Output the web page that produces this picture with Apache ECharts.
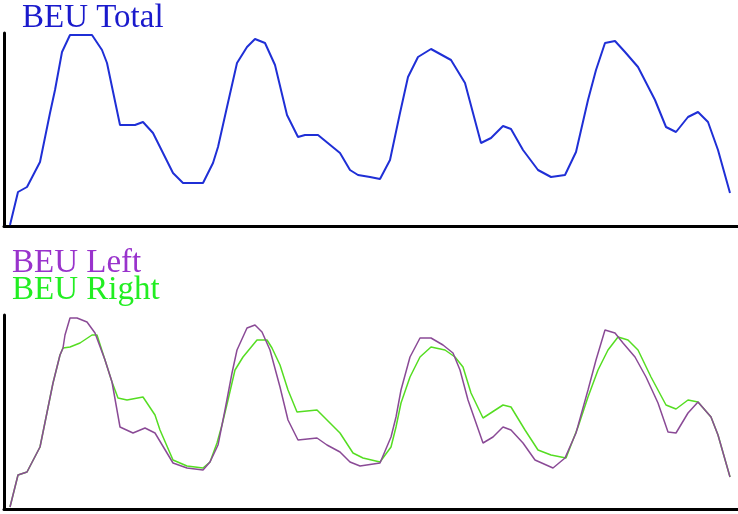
<!DOCTYPE html>
<html>
<head>
<meta charset="utf-8">
<script src="https://cdn.jsdelivr.net/npm/echarts@6/dist/echarts.min.js"></script>
<style>
html,body{margin:0;padding:0;background:#fff;}
#chart{width:738px;height:514px;}
</style>
</head>
<body>
<div id="chart"></div>
<script>
// Top panel: BEU Total (frame, value)
var totalFrame = [6,14,23,36,46,51,58,66,88,98,103,116,131,139,149,169,179,199,209,214,223,233,243,251,261,271,283,294,301,314,336,346,354,366,376,386,396,404,414,427,447,461,477,487,499,507,519,534,547,561,572,584,592,601,611,621,634,651,662,672,684,694,704,714,726];
var totalValue = [1,34,39,64,113,136,174,191,191,176,163,101,101,104,93,53,43,43,63,79,119,163,179,187,183,161,111,89,91,91,73,56,51,49,47,66,113,149,169,177,166,143,83,88,100,97,76,56,49,51,74,126,156,183,185,174,159,126,99,94,109,114,104,76,33];

// Bottom panel: BEU Left
var leftFrame = [6,14,23,36,49,56,59,61,66,73,83,91,101,108,116,129,141,151,169,183,199,206,214,221,228,233,243,251,258,266,276,284,294,313,323,336,346,356,376,387,392,397,406,416,427,439,449,456,464,479,489,499,507,519,531,549,561,572,584,592,601,611,619,631,642,654,664,672,684,694,707,714,726];
var leftValue = [2,34,37,62,126,154,161,174,191,191,187,176,149,127,82,76,81,76,46,41,39,47,64,99,136,159,181,184,177,159,122,89,69,71,64,57,47,43,46,72,92,119,152,171,171,164,156,139,109,66,72,82,79,66,49,41,51,76,119,149,179,176,166,152,132,106,77,76,96,107,92,74,32];

// Bottom panel: BEU Right
var rightFrame = [6,14,23,36,49,56,59,66,76,88,93,101,108,114,123,139,151,156,169,183,199,206,213,218,224,231,239,253,263,268,276,284,293,313,323,336,349,359,376,387,392,397,406,416,427,441,451,459,467,479,499,507,521,534,547,562,574,584,594,604,614,624,634,647,662,672,684,694,707,714,726];
var rightValue = [2,34,37,62,126,154,161,162,166,174,174,149,127,111,109,112,94,79,49,43,41,47,66,84,109,139,152,169,169,161,144,119,97,99,89,76,56,51,47,62,82,106,132,152,162,159,152,142,116,91,104,102,79,59,54,51,82,112,139,159,172,169,159,132,104,100,109,107,92,74,32];

function zip(a, b) { return a.map(function (v, i) { return [v, b[i]]; }); }

var chart = echarts.init(document.getElementById('chart'), null, {renderer: 'canvas'});

function xAxis(idx) {
  return {
    type: 'value', gridIndex: idx, min: 0, max: 734,
    axisLine: {show: true, onZero: false, lineStyle: {color: '#000', width: 3}},
    axisTick: {show: false}, axisLabel: {show: false}, splitLine: {show: false}
  };
}
function yAxis(idx, max) {
  return {
    type: 'value', gridIndex: idx, min: 0, max: max,
    axisLine: {show: true, onZero: false, lineStyle: {color: '#000', width: 3}},
    axisTick: {show: false}, axisLabel: {show: false}, splitLine: {show: false}
  };
}

chart.setOption({
  animation: false,
  backgroundColor: '#fff',
  grid: [
    {left: 4, right: 0, top: 33, height: 193, containLabel: false},
    {left: 4, right: 0, top: 315, height: 194, containLabel: false}
  ],
  xAxis: [xAxis(0), xAxis(1)],
  yAxis: [yAxis(0, 193), yAxis(1, 194)],
  graphic: [
    {type: 'text', left: 22, top: 2, style: {text: 'BEU Total', font: '33px "Liberation Serif"', fill: '#1a1acc'}},
    {type: 'text', left: 12, top: 247, style: {text: 'BEU Left', font: '33px "Liberation Serif"', fill: '#9933cc'}},
    {type: 'text', left: 12, top: 274, style: {text: 'BEU Right', font: '33px "Liberation Serif"', fill: '#22ee22'}}
  ],
  series: [
    {name: 'BEU Total', type: 'line', xAxisIndex: 0, yAxisIndex: 0, data: zip(totalFrame, totalValue),
     showSymbol: false, lineStyle: {color: '#1f2fd6', width: 2}, clip: false},
    {name: 'BEU Right', type: 'line', xAxisIndex: 1, yAxisIndex: 1, data: zip(rightFrame, rightValue),
     showSymbol: false, lineStyle: {color: '#55dd22', width: 1.5}, clip: false},
    {name: 'BEU Left', type: 'line', xAxisIndex: 1, yAxisIndex: 1, data: zip(leftFrame, leftValue),
     showSymbol: false, lineStyle: {color: '#8a4a96', width: 1.5}, clip: false}
  ]
});
</script>
</body>
</html>
